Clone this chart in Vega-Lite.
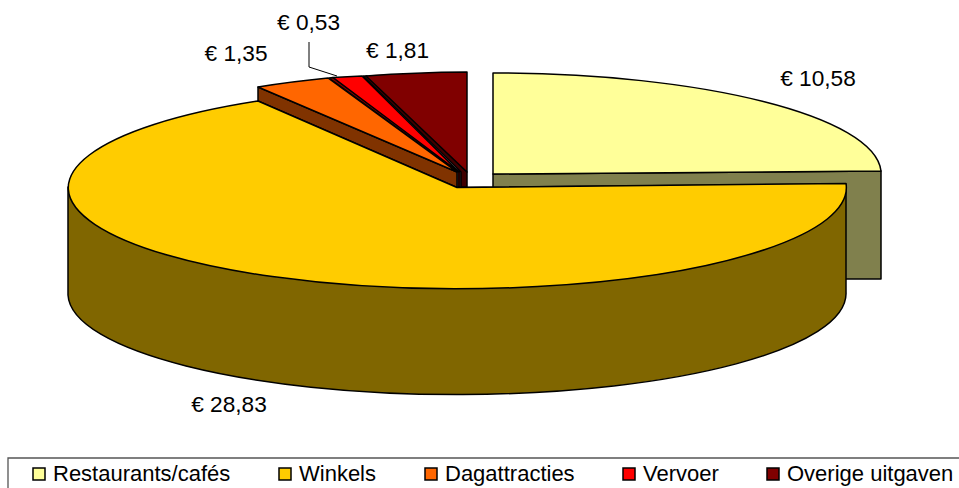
{
"$schema":"https://vega.github.io/schema/vega-lite/v6.json",
"width":959,"height":488,"padding":0,"autosize":{"type":"none"},
"background":"white",
"config":{"view":{"stroke":null},"font":"Liberation Sans"},
"data":{"values":[
{"category":"Restaurants/cafés","value":10.58,"label":"€ 10,58"},
{"category":"Winkels","value":28.83,"label":"€ 28,83"},
{"category":"Dagattracties","value":1.35,"label":"€ 1,35"},
{"category":"Vervoer","value":0.53,"label":"€ 0,53"},
{"category":"Overige uitgaven","value":1.81,"label":"€ 1,81"}
]},
"layer":[
{"mark":{"type":"point","filled":true,"opacity":1,"size":4,"stroke":"black","strokeWidth":1.5,"strokeJoin":"round"},
"encoding":{
"fill":{"condition":[
{"test":"datum.category==='Restaurants/cafés'","value":"#80804D"},
{"test":"datum.category==='Winkels'","value":"#806600"},
{"test":"datum.category==='Dagattracties'","value":"#803300"},
{"test":"datum.category==='Vervoer'","value":"#800000"}
],"value":"#400000"},
"shape":{"field":"category","type":"nominal","legend":null,"scale":{"domain":["Restaurants/cafés","Winkels","Dagattracties","Vervoer","Overige uitgaven"],"range":[
"M13.5,-70L401.5,-73L401.5,35L13.5,35Z",
"M366.5,-60L366.5,48A389,101 0 1 1 -411.5,51L-411.5,-57L-22.5,-56.5Z",
"M-221.5,-157L-221.5,-143L-22.5,-56.5L-22.5,-72Z",
"M-21.5,-72L-150.5,-166L-146.5,-166.5L-19.5,-72L-19.5,-57L-21.5,-57Z",
"M-18.5,-72L-116.5,-168L-112.5,-168L-12.5,-72L-12.5,-57L-18.5,-57Z"
]}}
}},
{"mark":{"type":"point","filled":true,"opacity":1,"size":4,"stroke":"black","strokeWidth":1.5,"strokeJoin":"round"},
"encoding":{
"fill":{"field":"category","type":"nominal","scale":{"domain":["Restaurants/cafés","Winkels","Dagattracties","Vervoer","Overige uitgaven"],"range":["#FFFF99","#FFCC00","#FF6600","#FF0000","#800000"]},
"legend":{"title":null,"orient":"none","legendX":28,"legendY":463,"direction":"horizontal","columns":5,"symbolType":"square","symbolSize":144,"symbolStrokeColor":"black","symbolStrokeWidth":1.5,"symbolOpacity":1,"labelFont":"Liberation Sans","labelFontSize":22,"labelColor":"black","labelOffset":3,"columnPadding":43,"labelLimit":300}},
"shape":{"field":"category","type":"nominal","legend":null,"scale":{"domain":["Restaurants/cafés","Winkels","Dagattracties","Vervoer","Overige uitgaven"],"range":[
"M13.5,-70L13.5,-171A388,101 0 0 1 401.5,-73Z",
"M-22.5,-56.5L366.5,-60.5A389,101 0 1 1 -221.5,-143Z",
"M-22.5,-72L-221.5,-157A389,101 0 0 1 -151.5,-166Z",
"M-20.5,-72L-146.5,-166.5A389,101 0 0 1 -117.5,-168Z",
"M-12.5,-72L-113.5,-168A389,101 0 0 1 -12.5,-172Z"
]}}
}},
{"transform":[{"filter":"datum.category==='Vervoer'"}],
"mark":{"type":"point","filled":false,"opacity":1,"size":4,"stroke":"black","strokeWidth":1,"shape":"M-170.5,-202L-170.5,-177L-142.5,-168"},"encoding":{}},
{"transform":[{"filter":"datum.category==='Restaurants/cafés'"}],
"mark":{"type":"point","filled":false,"opacity":1,"size":4,"stroke":"#555555","strokeWidth":1.3,"shape":"M-471.5,244L-471.5,214L480.5,214"},"encoding":{}},
{"mark":{"type":"text","font":"Liberation Sans","fontSize":22.67,"color":"black","align":"center","baseline":"middle"},
"encoding":{
"text":{"field":"label","type":"nominal"},
"x":{"field":"value","type":"quantitative","axis":null,"scale":{"domain":[0.53,1.35,1.81,10.58,28.83],"range":[308.5,236,397.5,818,229],"zero":false,"nice":false}},
"y":{"field":"value","type":"quantitative","axis":null,"scale":{"domain":[0.53,1.35,1.81,10.58,28.83],"range":[23,54,51,79,405],"zero":false,"nice":false}}
}}
],
"resolve":{"scale":{"shape":"independent"}}
}
